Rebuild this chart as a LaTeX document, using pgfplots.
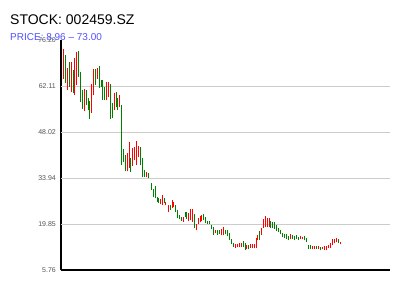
\documentclass[border=0pt]{standalone}
\usepackage{pgfplots}
\pgfplotsset{compat=1.18}
\usepackage{pgfplotstable}
\usepackage{fontspec}
\setmainfont{Liberation Sans}
\definecolor{cred}{RGB}{255,0,0}
\definecolor{cgreen}{RGB}{0,128,0}
\definecolor{subblue}{RGB}{80,80,255}
\definecolor{ticktext}{RGB}{85,85,85}
\definecolor{gridc}{RGB}{204,204,204}

% red (up) candles: day position, low, high
\pgfplotstableread{
x lo hi
63.5 64.26 73.44
67.5 60.89 67.62
71.5 60.27 69.46
74.5 59.36 70.69
76.5 62.42 72.53
84.5 54.46 61.19
91.5 53.84 62.72
93.5 59.36 67.32
97.5 64.26 67.62
106.5 57.82 63.34
108.5 58.74 63.34
114.5 54.76 59.97
119.5 55.68 59.36
127.5 36.08 41.59
129.5 37.00 44.96
132.5 37.61 43.12
134.5 39.45 43.43
136.5 37.92 45.27
138.5 40.37 43.74
146.5 34.24 35.77
160.5 25.97 27.50
162.5 25.67 28.73
165.5 25.67 26.59
168.5 23.52 25.67
172.5 24.75 27.20
173.5 25.05 26.59
183.5 20.46 21.99
188.5 20.77 23.22
190.5 21.07 24.44
192.5 20.46 24.44
196.5 18.01 19.85
198.5 19.85 21.69
200.5 20.46 22.30
201.5 20.77 22.60
215.5 17.09 18.01
221.5 16.48 18.32
223.5 16.48 18.93
235.5 12.50 13.72
237.5 12.80 13.72
239.5 12.80 14.03
241.5 12.80 14.03
246.5 12.19 13.42
250.5 12.50 13.72
252.5 12.50 13.72
254.5 12.50 13.72
256.5 12.50 15.56
257.5 14.95 16.48
261.5 16.48 18.62
263.5 18.62 21.38
265.5 18.93 22.30
267.5 18.93 21.69
269.5 18.93 21.69
290.5 15.25 16.79
300.5 15.25 16.17
302.5 15.25 15.87
312.5 12.19 13.11
314.5 12.19 13.11
318.5 12.19 13.11
322.5 12.19 12.80
324.5 11.89 13.11
326.5 11.89 13.11
328.5 12.50 13.42
330.5 12.50 14.03
332.5 13.42 15.25
334.5 14.03 15.25
336.5 14.34 15.56
340.5 13.72 14.34
}\redtab

% green (down) candles: day position, low, high
\pgfplotstableread{
x lo hi
65.5 63.03 71.61
69.5 61.81 69.46
73.5 59.97 67.01
78.5 64.87 72.83
80.5 57.21 66.40
82.5 55.07 60.89
86.5 56.29 60.89
88.5 54.76 58.44
89.5 52.00 57.52
95.5 62.42 67.32
99.5 61.50 68.24
101.5 61.81 63.95
102.5 57.82 63.95
104.5 57.82 61.81
110.5 52.00 62.72
112.5 52.31 56.91
116.5 55.68 60.27
117.5 54.76 58.44
121.5 37.92 56.29
123.5 38.84 42.82
125.5 36.08 40.98
130.5 35.77 40.06
140.5 37.92 43.43
142.5 34.24 40.06
144.5 34.24 36.39
148.5 33.94 35.47
151.5 30.26 32.41
153.5 28.12 30.57
155.5 27.81 31.49
157.5 26.59 28.12
158.5 26.28 27.81
164.5 26.28 27.81
170.5 24.14 25.67
175.5 23.52 25.67
177.5 21.69 24.14
179.5 21.38 22.60
181.5 20.77 21.99
185.5 21.99 23.52
186.5 21.38 23.52
194.5 18.62 22.91
203.5 21.07 22.91
205.5 20.15 21.99
207.5 19.85 20.77
209.5 19.85 20.77
211.5 18.32 19.54
213.5 16.48 18.93
217.5 16.48 18.01
219.5 16.79 18.01
225.5 16.79 18.01
227.5 16.17 18.01
229.5 14.95 17.09
231.5 13.72 15.25
233.5 12.80 14.03
243.5 12.80 14.64
245.5 11.89 14.03
248.5 12.19 13.42
259.5 14.95 17.70
270.5 18.62 20.77
272.5 18.62 20.46
274.5 18.32 20.46
276.5 17.70 19.54
278.5 17.40 18.62
280.5 16.79 18.01
282.5 15.87 17.09
284.5 15.56 16.79
286.5 15.25 16.79
288.5 14.95 16.17
292.5 15.25 16.48
294.5 14.95 16.17
296.5 15.25 16.48
298.5 14.95 15.87
304.5 14.95 16.17
306.5 14.34 15.56
308.5 12.19 13.42
310.5 12.19 13.42
316.5 12.19 13.11
320.5 11.89 12.80
338.5 14.03 15.25
}\greentab

\begin{document}
\begin{tikzpicture}[x=1pt,y=1pt]
\path[use as bounding box] (0,0) rectangle (400,300);
\begin{axis}[
  at={(61pt,29.5pt)}, anchor=south west,
  scale only axis, width=329pt, height=230.5pt,
  xmin=61, xmax=390,
  ymin=5.76, ymax=76.20,
  axis x line*=bottom, axis y line*=left,
  axis line style={-, line width=2pt, black},
  xtick=\empty,
  ytick={5.76,19.85,33.94,48.02,62.11,76.20},
  yticklabels={5.76,19.85,33.94,48.02,62.11,76.20},
  major tick length=0pt,
  yticklabel style={font=\fontsize{7}{8}\selectfont, text=ticktext, inner sep=0pt, xshift=-5pt},
  /pgf/number format/assume math mode=true,
  extra y ticks={19.85,33.94,48.02,62.11},
  extra y tick labels={},
  extra y tick style={ymajorgrids=true, grid style={gridc, line width=0.8pt}},
]
\addplot[draw=cred, line width=1pt, line cap=butt, forget plot, no markers,
  quiver={u=0, v=\thisrow{hi}-\thisrow{lo}}]
  table[x=x, y=lo] {\redtab};
\addplot[draw=cgreen, line width=1pt, line cap=butt, forget plot, no markers,
  quiver={u=0, v=\thisrow{hi}-\thisrow{lo}}]
  table[x=x, y=lo] {\greentab};
\end{axis}
\node[anchor=base west, inner sep=0pt, font=\fontsize{14}{16}\selectfont] at (10,275) {STOCK: 002459.SZ};
\node[anchor=base west, inner sep=0pt, font=\fontsize{10}{12}\selectfont, text=subblue] at (10,259.3) {PRICE: 8.96 – 73.00};
\end{tikzpicture}
\end{document}
